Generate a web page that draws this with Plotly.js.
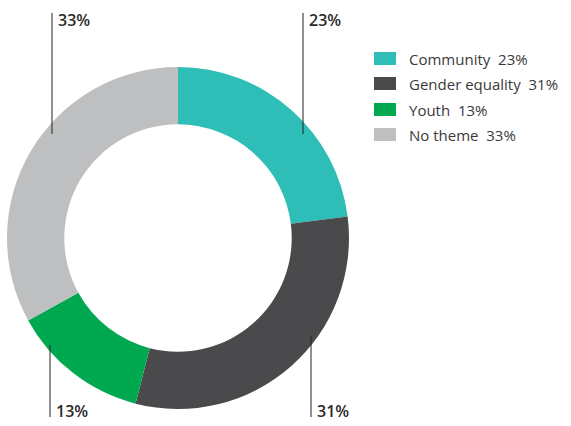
<!DOCTYPE html>
<html>
<head>
<meta charset="utf-8">
<script src="https://cdn.plot.ly/plotly-3.0.1.min.js"></script>
<style>
html,body{margin:0;padding:0;background:#fff;}
#chart{width:571px;height:426px;}
</style>
</head>
<body>
<div id="chart"></div>
<script>
const labels = ["Community", "Gender equality", "Youth", "No theme"];
const values = [23, 31, 13, 33];
const colors = ["#2ebdb7", "#4a4a4c", "#00a84f", "#bebfc1"];

const W = 571, H = 426;
const px = x => x / W;
const py = y => 1 - y / H;

// leader label layout: [lineX, lineTop, lineBottom, textX, textY]
const leaderPos = [
  [303, 13, 134, 307, 20],   // Community
  [311, 336, 417, 315, 411], // Gender equality
  [50, 345, 417, 54, 411],   // Youth
  [52, 13, 134, 56, 20]      // No theme
];
const legendRows = [58.5, 83.5, 109.5, 134.5];

const shapes = [];
const annotations = [];
values.forEach((v, i) => {
  const p = leaderPos[i];
  shapes.push({type: "line", xref: "paper", yref: "paper",
    x0: px(p[0]), x1: px(p[0]), y0: py(p[1]), y1: py(p[2]),
    line: {color: "#222", width: 1}});
  annotations.push({xref: "paper", yref: "paper", x: px(p[3]), y: py(p[4]),
    xanchor: "left", yanchor: "middle", showarrow: false,
    text: v + "%", font: {family: "Open Sans", size: 16, weight: 600, color: "#2a2a2a"}});
  // legend
  const cy = legendRows[i];
  shapes.push({type: "rect", xref: "paper", yref: "paper",
    x0: px(374), x1: px(396), y0: py(cy - 6.5), y1: py(cy + 6.5),
    fillcolor: colors[i], line: {width: 0}});
  annotations.push({xref: "paper", yref: "paper", x: px(407), y: py(cy + 0.5),
    xanchor: "left", yanchor: "middle", showarrow: false,
    text: labels[i] + "&nbsp; " + v + "%", font: {family: "Open Sans", size: 15, color: "#3a3a3a"}});
});

const data = [{
  type: "pie",
  labels: labels,
  values: values,
  marker: {colors: colors, line: {width: 0}},
  hole: 0.665,
  sort: false,
  direction: "clockwise",
  rotation: 0,
  textinfo: "none",
  hoverinfo: "label+percent",
  domain: {x: [px(7), px(349)], y: [py(409), py(67)]}
}];

const layout = {
  width: W, height: H,
  margin: {l: 0, r: 0, t: 0, b: 0},
  paper_bgcolor: "#fff",
  showlegend: false,
  shapes: shapes,
  annotations: annotations
};

Plotly.newPlot("chart", data, layout, {displayModeBar: false, staticPlot: true});
</script>
</body>
</html>
